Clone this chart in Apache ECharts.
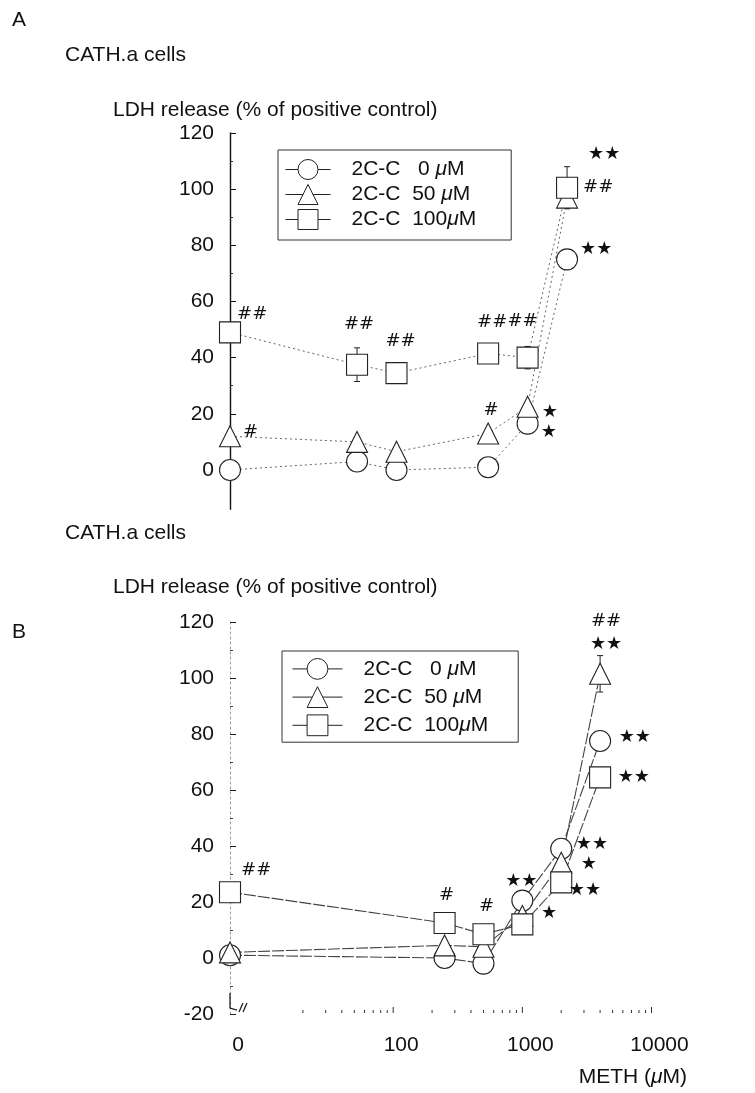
<!DOCTYPE html>
<html><head><meta charset="utf-8">
<script src="https://cdn.jsdelivr.net/npm/echarts@6/dist/echarts.min.js"></script>
<style>html,body{margin:0;padding:0;background:#fff}#c{width:755px;height:1093px}</style>
</head><body><div id="c"></div>
<script>
// ---------------- DATA ----------------
// Panel A: METH doses (uM), 0 = control, placed at the axis break
const dosesA = [0, 50, 100, 500, 1000, 2000];
const a_cc0   = [0, 3, 0, 1, 16.5, 75];
const a_cc50  = [12, 10, 6.5, 13, 22.5, 97];
const a_cc100 = [49, 37.5, 34.5, 41.5, 40, 100.5];
const a_err100 = [0, 6, 0, 0, 4, 7.5];
const a_sig0   = ['', '', '', '', '★', '★★'];
const a_sig50  = ['#', '', '', '#', '★', '★★'];
const a_sig100 = ['##', '##', '##', '##', '##', '##'];

// Panel B
const dosesB = [0, 250, 500, 1000, 2000, 4000];
const b_cc0   = [1, 0, -2, 20.5, 39, 77.5];
const b_cc50  = [2, 4.5, 4, 15, 34, 101.5];
const b_cc100 = [23.5, 12.5, 8.5, 12, 27, 64.5];
const b_err50 = [0, 0, 0, 0, 0, 6.5];
const b_sig0   = ['', '', '', '★★', '★★', '★★'];
const b_sig50  = ['', '', '', '', '★', '##\n★★'];
const b_sig100 = ['##', '#', '#', '★', '★★', '★★'];

const seriesNames = ['2C-C   0 μM', '2C-C  50 μM', '2C-C  100μM'];
const yTicksA = [0, 20, 40, 60, 80, 100, 120];
const yMinorA = [10, 30, 50, 70, 90, 110];
const xMajorB = [100, 1000, 10000];
const xMinorB = [20, 30, 40, 50, 60, 70, 80, 90, 200, 300, 400, 500, 600, 700, 800, 900,
                 2000, 3000, 4000, 5000, 6000, 7000, 8000, 9000];

// ---------------- LAYOUT / STYLE ----------------
const X_ZERO_A = 5.37;   // log-axis position used for the "0" dose (axis break)
const X_ZERO_B = 5.45;
const FONT = '"Liberation Sans", Arial, sans-serif';
const SIGFONT = '"DejaVu Sans", sans-serif';

const placeA0   = [null, null, null, null, ['right', 2, 0, 9], ['right', 2, 0, -10]];
const placeA50  = [['right', 2, 0, -4], null, null, ['top', 1, 3, 0], ['right', 3, 0, 6], ['right', 5, 5, -43]];
const placeA100 = [['right', 0, -4, -18], ['top', 18, 2, 0], ['top', 9, 4, 0], ['top', 9, 4, 0], ['top', 14, -5, 0], ['right', 5, 0, 0]];
const placeB0   = [null, null, null, ['top', -3, -1, 0], ['right', 3.5, 0, -4], ['right', 7.5, 0, -3.5]];
const placeB50  = [null, null, null, null, ['right', 8.5, 0, 2], ['top', 7, 6, 0]];
const placeB100 = [['right', 0, 0, -21.5], ['top', 5, 2, 0], ['top', 5, 3, 0], ['right', 7.5, 0, -11], ['right', -3.5, 0, 8], ['right', 6.5, 0, 0]];

function buildData(doses, vals, sigs, place, zeroX) {
  return doses.map((d, i) => {
    const item = { value: [d === 0 ? zeroX : d, vals[i]] };
    if (sigs[i] && place[i]) {
      const p = place[i];
      item.label = { show: true, formatter: sigs[i], position: p[0], distance: p[1], offset: [p[2], p[3]] };
    }
    return item;
  });
}
function errData(doses, vals, errs, zeroX) {
  const out = [];
  doses.forEach((d, i) => { if (errs[i] > 0) out.push([d === 0 ? zeroX : d, vals[i] - errs[i], vals[i] + errs[i]]); });
  return out;
}
const symbols = ['circle', 'triangle', 'rect'];
function lineSeries(name, sym, data, xi, yi, lineStyle) {
  return {
    type: 'line', name: name, data: data, xAxisIndex: xi, yAxisIndex: yi,
    symbol: sym, symbolSize: 21, showAllSymbol: true,
    itemStyle: { color: '#fff', borderColor: '#222', borderWidth: 1.1 },
    lineStyle: lineStyle,
    label: { show: false, fontFamily: SIGFONT, fontSize: 18, color: '#111', lineHeight: 23 },
    emphasis: { disabled: true }, z: 3
  };
}
function errSeries(data, xi, yi) {
  return {
    type: 'custom', xAxisIndex: xi, yAxisIndex: yi, data: data, z: 2, silent: true,
    encode: { x: 0, y: [1, 2] },
    renderItem: function (params, api) {
      const x = api.value(0);
      const lo = api.coord([x, api.value(1)]);
      const hi = api.coord([x, api.value(2)]);
      const w = 3;
      const st = { stroke: '#222', lineWidth: 1 };
      return { type: 'group', children: [
        { type: 'line', shape: { x1: lo[0], y1: lo[1], x2: hi[0], y2: hi[1] }, style: st },
        { type: 'line', shape: { x1: hi[0] - w, y1: hi[1], x2: hi[0] + w, y2: hi[1] }, style: st },
        { type: 'line', shape: { x1: lo[0] - w, y1: lo[1], x2: lo[0] + w, y2: lo[1] }, style: st }
      ] };
    }
  };
}

const lineA = { color: '#666', width: 1, type: [2, 3] };
const lineB = { color: '#444', width: 1.1, type: [12, 2] };

const series = [
  lineSeries(seriesNames[0], symbols[0], buildData(dosesA, a_cc0, a_sig0, placeA0, X_ZERO_A), 0, 0, lineA),
  lineSeries(seriesNames[1], symbols[1], buildData(dosesA, a_cc50, a_sig50, placeA50, X_ZERO_A), 0, 0, lineA),
  lineSeries(seriesNames[2], symbols[2], buildData(dosesA, a_cc100, a_sig100, placeA100, X_ZERO_A), 0, 0, lineA),
  errSeries(errData(dosesA, a_cc100, a_err100, X_ZERO_A), 0, 0),
  lineSeries(seriesNames[0], symbols[0], buildData(dosesB, b_cc0, b_sig0, placeB0, X_ZERO_B), 1, 2, lineB),
  lineSeries(seriesNames[1], symbols[1], buildData(dosesB, b_cc50, b_sig50, placeB50, X_ZERO_B), 1, 2, lineB),
  lineSeries(seriesNames[2], symbols[2], buildData(dosesB, b_cc100, b_sig100, placeB100, X_ZERO_B), 1, 2, lineB),
  errSeries(errData(dosesB, b_cc50, b_err50, X_ZERO_B), 1, 2),
  // x-axis ticks of panel B (log minor/major ticks)
  {
    type: 'custom', xAxisIndex: 1, yAxisIndex: 2, silent: true, z: 1,
    data: xMinorB.map(v => [v, -20, 3]).concat(xMajorB.map(v => [v, -20, 6])),
    encode: { x: 0, y: 1 },
    renderItem: function (params, api) {
      const p = api.coord([api.value(0), api.value(1)]);
      return { type: 'line', shape: { x1: p[0], y1: p[1] - 1, x2: p[0], y2: p[1] - 1 - api.value(2) }, style: { stroke: '#333', lineWidth: 1 } };
    }
  },
  // axis break mark of panel B
  {
    type: 'custom', xAxisIndex: 1, yAxisIndex: 2, silent: true, z: 4,
    data: [[X_ZERO_B, -20]], encode: { x: 0, y: 1 },
    renderItem: function (params, api) {
      const p = api.coord([api.value(0), api.value(1)]);
      const x = p[0], y = p[1];
      const st = { stroke: '#222', lineWidth: 1.3, fill: null };
      return { type: 'group', children: [
        { type: 'polyline', shape: { points: [[x, y - 21], [x, y - 6], [x + 7, y - 4]] }, style: st },
        { type: 'line', shape: { x1: x + 9, y1: y - 2, x2: x + 13, y2: y - 11 }, style: st },
        { type: 'line', shape: { x1: x + 13, y1: y - 2, x2: x + 17, y2: y - 11 }, style: st }
      ] };
    }
  }
];

const legendCommon = {
  orient: 'vertical', data: seriesNames, borderColor: '#333', borderWidth: 1,
  selectedMode: false,
  itemStyle: { color: '#fff', borderColor: '#222', borderWidth: 1 },
  lineStyle: { type: 'solid', color: '#222', width: 1 },
  formatter: function (n) { return n.replace('μ', '{i|μ}'); },
  textStyle: { fontFamily: FONT, fontSize: 21, color: '#111', padding: [0, 0, 0, 16],
               rich: { i: { fontStyle: 'italic', fontFamily: FONT, fontSize: 21, color: '#111' } } }
};

const option = {
  animation: false,
  backgroundColor: '#fff',
  grid: [
    { left: 230, top: 133, width: 428.7, height: 376.3 },
    { left: 230, top: 622, width: 421.5, height: 392 }
  ],
  xAxis: [
    { type: 'log', logBase: 10, gridIndex: 0, min: X_ZERO_A, max: 10000, show: false },
    { type: 'log', logBase: 10, gridIndex: 1, min: X_ZERO_B, max: 10000,
      axisLine: { show: false }, axisTick: { show: false }, splitLine: { show: false },
      axisLabel: { show: true, showMinLabel: true, margin: 21, fontFamily: FONT, fontSize: 21, color: '#111',
        padding: [0, 0, 0, 16],
        formatter: function (v) { if (v < 9) return '0'; if (Math.abs(v - 10) < 0.5) return ''; return String(Math.round(v)); } } }
  ],
  yAxis: [
    { type: 'value', gridIndex: 0, position: 'left', min: -14, max: 120,
      axisLine: { show: true, lineStyle: { color: '#111', width: 1.4 } },
      axisTick: { show: true, inside: true, length: 6, customValues: yTicksA, lineStyle: { color: '#111' } },
      axisLabel: { customValues: yTicksA, margin: 16, fontFamily: FONT, fontSize: 21, color: '#111' },
      splitLine: { show: false } },
    { type: 'value', gridIndex: 0, position: 'left', offset: 0, min: -14, max: 120,
      axisLine: { show: false },
      axisTick: { show: true, inside: true, length: 3, customValues: yMinorA, lineStyle: { color: '#333' } },
      axisLabel: { show: false }, splitLine: { show: false } },
    { type: 'value', gridIndex: 1, position: 'left', min: -20, max: 120, interval: 20,
      axisLine: { show: true, lineStyle: { color: '#999', width: 1, type: [2, 3] } },
      axisTick: { show: true, inside: true, length: 6, lineStyle: { color: '#222' } },
      minorTick: { show: true, splitNumber: 2, length: 3, lineStyle: { color: '#444' } },
      axisLabel: { margin: 16, fontFamily: FONT, fontSize: 21, color: '#111' },
      splitLine: { show: false } }
  ],
  legend: [
    Object.assign({}, legendCommon, { left: 278, top: 150, padding: [9, 35, 10, 7], itemWidth: 45, itemHeight: 25, itemGap: 4 }),
    Object.assign({}, legendCommon, { left: 282, top: 651, padding: [7, 30, 6, 10], itemWidth: 50, itemHeight: 26, itemGap: 6.4 })
  ],
  graphic: [
    { type: 'text', x: 12, y: 20, style: { text: 'A', font: '21px ' + FONT, fill: '#111', verticalAlign: 'middle' } },
    { type: 'text', x: 65, y: 55, style: { text: 'CATH.a cells', font: '21px ' + FONT, fill: '#111', verticalAlign: 'middle' } },
    { type: 'text', x: 113, y: 110, style: { text: 'LDH release (% of positive control)', font: '21px ' + FONT, fill: '#111', verticalAlign: 'middle' } },
    { type: 'text', x: 65, y: 533, style: { text: 'CATH.a cells', font: '21px ' + FONT, fill: '#111', verticalAlign: 'middle' } },
    { type: 'text', x: 113, y: 587, style: { text: 'LDH release (% of positive control)', font: '21px ' + FONT, fill: '#111', verticalAlign: 'middle' } },
    { type: 'text', x: 12, y: 632, style: { text: 'B', font: '21px ' + FONT, fill: '#111', verticalAlign: 'middle' } },
    { type: 'text', x: 687, y: 1077, style: { text: 'METH ({i|μ}M)', font: '21px ' + FONT, fill: '#111', align: 'right', verticalAlign: 'middle',
      rich: { i: { fontStyle: 'italic', fontFamily: FONT, fontSize: 21, fill: '#111' } } } }
  ],
  series: series
};

const chart = echarts.init(document.getElementById('c'), null, { renderer: 'canvas' });
chart.setOption(option);
</script></body></html>
